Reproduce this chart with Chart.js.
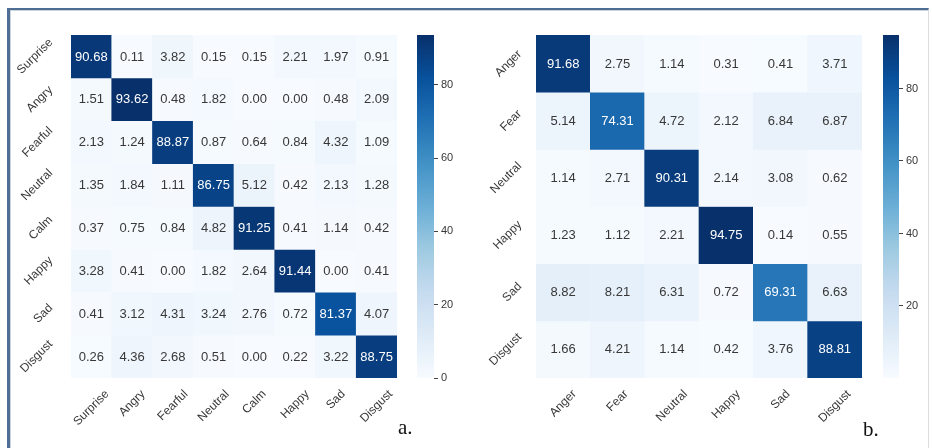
<!DOCTYPE html>
<html>
<head>
<meta charset="utf-8">
<script src="https://cdn.jsdelivr.net/npm/chart.js@4.4.0/dist/chart.umd.min.js"></script>
<style>
  html, body { margin: 0; padding: 0; background: #fff; }
  #page { position: relative; width: 932px; height: 448px; overflow: hidden; }
  #page canvas { position: absolute; top: 0; }
  #frame {
    position: absolute; left: 7px; top: 8px; width: 918px; height: 460px;
    border-top: 2px solid #4e6e94; border-left: 3px solid #4e6e94; border-right: 1px solid #dcdcdc;
    box-shadow: inset 1px 1px 0 #cbd3dd;
  }
  .tag { position: absolute; font-family: "Liberation Serif", "Times New Roman", serif; font-size: 21px; line-height: 1; color: #111; }
</style>
</head>
<body>
<div id="page">
  <div id="frame"></div>
  <canvas id="heatA" width="405" height="448" style="left:0px"></canvas>
  <canvas id="barA" width="60" height="448" style="left:405px"></canvas>
  <canvas id="heatB" width="410" height="448" style="left:460px"></canvas>
  <canvas id="barB" width="60" height="448" style="left:872px"></canvas>
  <div class="tag" style="left:398px; top:417px">a.</div>
  <div class="tag" style="left:863px; top:419px">b.</div>
</div>
<script>
// ---------------- data ----------------
var labelsA = ['Surprise', 'Angry', 'Fearful', 'Neutral', 'Calm', 'Happy', 'Sad', 'Disgust'];
var matrixA = [
    [90.68, 0.11, 3.82, 0.15, 0.15, 2.21, 1.97, 0.91],
    [1.51, 93.62, 0.48, 1.82, 0.00, 0.00, 0.48, 2.09],
    [2.13, 1.24, 88.87, 0.87, 0.64, 0.84, 4.32, 1.09],
    [1.35, 1.84, 1.11, 86.75, 5.12, 0.42, 2.13, 1.28],
    [0.37, 0.75, 0.84, 4.82, 91.25, 0.41, 1.14, 0.42],
    [3.28, 0.41, 0.00, 1.82, 2.64, 91.44, 0.00, 0.41],
    [0.41, 3.12, 4.31, 3.24, 2.76, 0.72, 81.37, 4.07],
    [0.26, 4.36, 2.68, 0.51, 0.00, 0.22, 3.22, 88.75]
];
var cbTicksA = [0, 20, 40, 60, 80];

var labelsB = ['Anger', 'Fear', 'Neutral', 'Happy', 'Sad', 'Disgust'];
var matrixB = [
    [91.68, 2.75, 1.14, 0.31, 0.41, 3.71],
    [5.14, 74.31, 4.72, 2.12, 6.84, 6.87],
    [1.14, 2.71, 90.31, 2.14, 3.08, 0.62],
    [1.23, 1.12, 2.21, 94.75, 0.14, 0.55],
    [8.82, 8.21, 6.31, 0.72, 69.31, 6.63],
    [1.66, 4.21, 1.14, 0.42, 3.76, 88.81]
];
var cbTicksB = [20, 40, 60, 80];

// ---------------- colours (matplotlib "Blues") ----------------
var BLUES = [[247, 251, 255], [222, 235, 247], [198, 219, 239], [158, 202, 225], [107, 174, 214],
             [66, 146, 198], [33, 113, 181], [8, 81, 156], [8, 48, 107]];
var FONT = '"Liberation Sans", Arial, sans-serif';

function bluesRgb(t) {
    t = Math.max(0, Math.min(1, t));
    var p = t * 8, i = Math.min(7, Math.floor(p)), f = p - i;
    var a = BLUES[i], b = BLUES[i + 1];
    return [0, 1, 2].map(function (k) { return Math.round(a[k] + (b[k] - a[k]) * f); });
}
function rgbStr(c) { return 'rgb(' + c[0] + ',' + c[1] + ',' + c[2] + ')'; }
function luminance(c) {
    var l = c.map(function (v) { v = v / 255; return v <= 0.03928 ? v / 12.92 : Math.pow((v + 0.055) / 1.055, 2.4); });
    return 0.2126 * l[0] + 0.7152 * l[1] + 0.0722 * l[2];
}

// ---------------- plugins ----------------
// numbers inside the cells, placed on the bar elements
var cellText = {
    id: 'cellText',
    afterDatasetsDraw: function (chart, args, opts) {
        var ctx = chart.ctx;
        ctx.save();
        ctx.font = '13px ' + FONT;
        ctx.textAlign = 'center';
        ctx.textBaseline = 'middle';
        opts.matrix.forEach(function (row, i) {
            var meta = chart.getDatasetMeta(i);
            row.forEach(function (v, j) {
                var bar = meta.data[j];
                var c = bluesRgb((v - opts.vmin) / (opts.vmax - opts.vmin));
                ctx.fillStyle = luminance(c) > 0.408 ? '#383838' : '#ffffff';
                ctx.fillText(v.toFixed(2), bar.x, (bar.y + bar.base) / 2 + 0.5);
            });
        });
        ctx.restore();
    }
};

// rotated tick labels (centred like matplotlib's rotation=45)
var tickText = {
    id: 'tickText',
    afterDraw: function (chart, args, opts) {
        var ctx = chart.ctx, x = chart.scales.x, y = chart.scales.y;
        var h = 9, c = Math.SQRT1_2;
        ctx.save();
        ctx.font = '12px ' + FONT;
        ctx.fillStyle = '#383838';
        ctx.textAlign = 'center';
        ctx.textBaseline = 'middle';
        opts.labels.forEach(function (lab, j) {
            var w = ctx.measureText(lab).width;
            var half = c * (w + h) / 2;
            // x axis
            ctx.save();
            ctx.translate(x.getPixelForValue(j), opts.xTop + half);
            ctx.rotate(-Math.PI / 4);
            ctx.fillText(lab, 0, 0);
            ctx.restore();
            // y axis
            ctx.save();
            ctx.translate(opts.yRight - half, y.getPixelForValue(j + 0.5));
            ctx.rotate(-Math.PI / 4);
            ctx.fillText(lab, 0, 0);
            ctx.restore();
        });
        ctx.restore();
    }
};

// ---------------- charts ----------------
function makeHeatmap(id, labels, matrix, pad, xTop, yRight) {
    var all = [].concat.apply([], matrix);
    var vmin = Math.min.apply(null, all), vmax = Math.max.apply(null, all);
    var datasets = matrix.map(function (row, i) {
        return {
            label: labels[i],
            data: row.map(function () { return [i, i + 1]; }),
            backgroundColor: row.map(function (v) { return rgbStr(bluesRgb((v - vmin) / (vmax - vmin))); }),
            borderWidth: 0,
            grouped: false,
            barPercentage: 1,
            categoryPercentage: 1
        };
    });
    return new Chart(document.getElementById(id), {
        type: 'bar',
        data: { labels: labels, datasets: datasets },
        options: {
            responsive: false,
            animation: false,
            events: [],
            layout: { padding: pad },
            scales: {
                x: { type: 'category', display: false, offset: true },
                y: { type: 'linear', display: false, min: 0, max: labels.length, reverse: true }
            },
            plugins: {
                legend: { display: false },
                tooltip: { enabled: false },
                cellText: { matrix: matrix, vmin: vmin, vmax: vmax },
                tickText: { labels: labels, xTop: xTop, yRight: yRight }
            }
        },
        plugins: [cellText, tickText]
    });
}

function makeColorbar(id, matrix, ticks, pad, axisWidth) {
    var all = [].concat.apply([], matrix);
    var vmin = Math.min.apply(null, all), vmax = Math.max.apply(null, all);
    return new Chart(document.getElementById(id), {
        type: 'bar',
        data: {
            labels: [''],
            datasets: [{
                data: [[vmin, vmax]],
                barPercentage: 1,
                categoryPercentage: 1,
                borderWidth: 0,
                backgroundColor: function (ctx) {
                    var y = ctx.chart.scales.y;
                    var y0 = y ? y.getPixelForValue(vmin) : NaN;
                    var y1 = y ? y.getPixelForValue(vmax) : NaN;
                    if (!isFinite(y0) || !isFinite(y1)) return rgbStr(BLUES[4]);
                    var g = ctx.chart.ctx.createLinearGradient(0, y0, 0, y1);
                    BLUES.forEach(function (c, k) { g.addColorStop(k / 8, rgbStr(c)); });
                    return g;
                }
            }]
        },
        options: {
            responsive: false,
            animation: false,
            events: [],
            layout: { padding: pad },
            scales: {
                x: { display: false },
                y: {
                    position: 'right',
                    min: vmin,
                    max: vmax,
                    afterBuildTicks: function (s) { s.ticks = ticks.map(function (v) { return { value: v }; }); },
                    afterFit: function (s) { s.width = axisWidth; },
                    grid: { drawOnChartArea: false, drawTicks: true, tickLength: 4, tickColor: '#444444', lineWidth: 1 },
                    border: { display: false },
                    ticks: { color: '#383838', font: { family: FONT, size: 11 }, padding: 3 }
                }
            },
            plugins: { legend: { display: false }, tooltip: { enabled: false } }
        }
    });
}

makeHeatmap('heatA', labelsA, matrixA, { left: 71, top: 35, right: 8, bottom: 70 }, 389, 54);
makeColorbar('barA', matrixA, cbTicksA, { left: 12, top: 35, right: 0, bottom: 70 }, 31);
makeHeatmap('heatB', labelsB, matrixB, { left: 76, top: 35, right: 8, bottom: 70 }, 389, 63);
makeColorbar('barB', matrixB, cbTicksB, { left: 11, top: 35, right: 0, bottom: 70 }, 33);
</script>
</body>
</html>
